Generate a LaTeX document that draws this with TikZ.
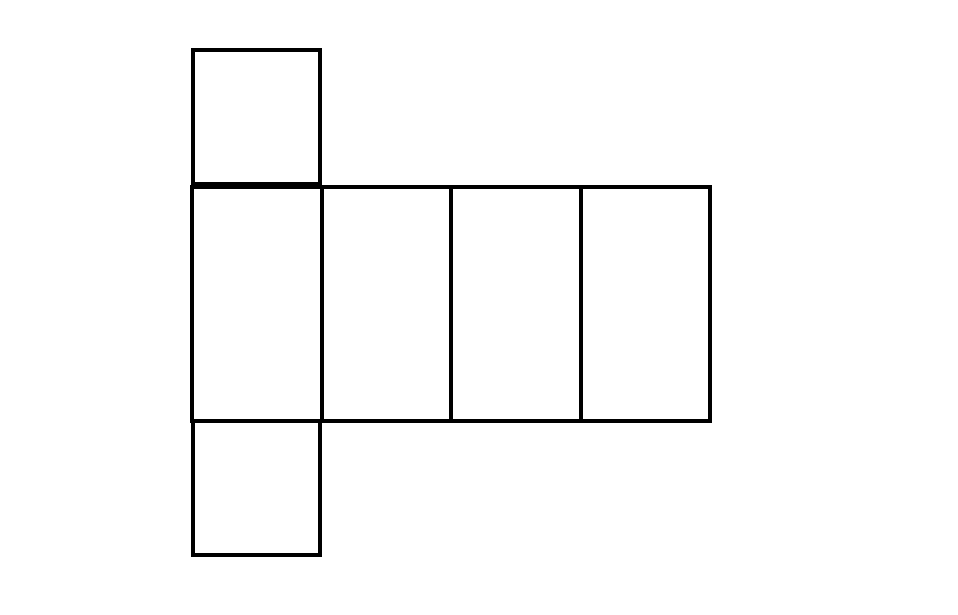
\documentclass[tikz,border=0pt]{standalone}
\begin{document}
\begin{tikzpicture}[x=1pt,y=-1pt,
  face/.style={draw=black,line width=3.2pt,inner sep=0pt,minimum width=#1},
  face/.default=129pt]
\useasboundingbox (0,0) rectangle (958,615);
\node[face=127pt,minimum height=134pt] (top) at (256.5,117) {};
\node[face=130pt,minimum height=234pt] (p1) at (257,304) {};
\node[face=129pt,minimum height=234pt] (p2) at (386.5,304) {};
\node[face=130pt,minimum height=234pt] (p3) at (516,304) {};
\node[face=129pt,minimum height=234pt] (p4) at (645.5,304) {};
\node[face=127pt,minimum height=134pt] (bot) at (256.5,488) {};
\end{tikzpicture}
\end{document}
